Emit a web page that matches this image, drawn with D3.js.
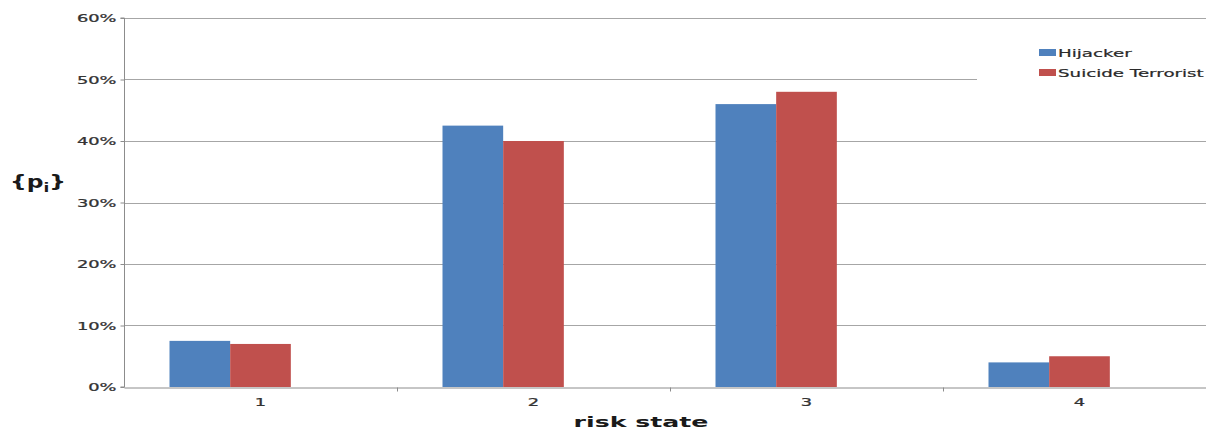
<!DOCTYPE html>
<html>
<head>
<meta charset="utf-8">
<script src="https://cdn.jsdelivr.net/npm/d3@7"></script>
<style>
  html, body { margin: 0; padding: 0; background: #fff; }
  svg { display: block; }
</style>
</head>
<body>
<svg id="chart" width="1206" height="430"></svg>
<script>
// Risk-state probability distribution for two threat profiles
const categories = ["1", "2", "3", "4"];
const seriesNames = ["Hijacker", "Suicide Terrorist"];
const hijacker = [0.075, 0.425, 0.46, 0.04];
const suicideTerrorist = [0.07, 0.40, 0.48, 0.05];
const yTicks = [0, 0.1, 0.2, 0.3, 0.4, 0.5, 0.6];
const colors = ["#4F81BD", "#C0504D"];

const seriesValues = [hijacker, suicideTerrorist];

const svg = d3.select("#chart");
const W = 1206, H = 430;
const margin = { left: 124, top: 18, bottom: 43 };
const plotRight = 1216; // plot area runs slightly past the canvas edge

const x0 = d3.scaleBand().domain(categories).range([margin.left, plotRight]).paddingInner(0).paddingOuter(0);
// three bar slots per category with 150% gap; the first two slots hold the series
const x1 = d3.scaleBand().domain([0, 1, 2]).range([0, x0.bandwidth()]).paddingInner(0).paddingOuter(0.75);
const y = d3.scaleLinear().domain([0, 0.6]).range([H - margin.bottom, margin.top]);

// wide-text helper: stretch glyphs horizontally around the anchor
function stretched(sel, sx) {
  sel.each(function () {
    const t = d3.select(this);
    const tx = +t.attr("x") || 0, ty = +t.attr("y") || 0;
    t.attr("x", null).attr("y", null)
     .attr("transform", `translate(${tx},${ty}) scale(${sx},1)`);
  });
  return sel;
}

// horizontal gridlines
svg.append("g")
  .selectAll("line")
  .data(yTicks.slice(1))
  .join("line")
  .attr("x1", margin.left).attr("x2", plotRight)
  .attr("y1", d => Math.round(y(d)) + 0.5).attr("y2", d => Math.round(y(d)) + 0.5)
  .attr("stroke", "#a6a6a6").attr("stroke-width", 1);

// bars
seriesValues.forEach((vals, s) => {
  svg.append("g")
    .selectAll("rect")
    .data(vals)
    .join("rect")
    .attr("x", (d, i) => x0(categories[i]) + x1(s))
    .attr("width", x1.bandwidth())
    .attr("y", d => y(d))
    .attr("height", d => y(0) - y(d))
    .attr("fill", colors[s]);
});

// y axis
const yAxis = svg.append("g")
  .attr("transform", `translate(${margin.left + 0.5},0)`)
  .call(d3.axisLeft(y).tickValues(yTicks).tickFormat(d3.format(".0%")).tickSize(4).tickPadding(4));
yAxis.select(".domain").attr("stroke", "#8c8c8c").attr("d", `M-4,${y(0.6)}H0V${y(0)}H-4`);
yAxis.selectAll(".tick line").attr("stroke", "#8c8c8c");
yAxis.selectAll(".tick text")
  .attr("font-family", "DejaVu Sans").attr("font-size", 9.8).attr("fill", "#333")
  .attr("stroke", "#333").attr("stroke-width", 0.25)
  .attr("dy", "0.36em")
  .each(function () {
    const t = d3.select(this);
    const tx = +t.attr("x");
    t.attr("x", null).attr("transform", `translate(${tx},0) scale(1.82,1)`);
  });

// x axis
const xAxis = svg.append("g")
  .attr("transform", `translate(0,${y(0) + 0.5})`)
  .call(d3.axisBottom(x0).tickSize(0).tickPadding(12));
xAxis.select(".domain").attr("stroke", "#8c8c8c");
xAxis.selectAll(".tick text")
  .attr("font-family", "DejaVu Sans").attr("font-size", 9.8).attr("fill", "#333")
  .attr("stroke", "#333").attr("stroke-width", 0.25)
  .each(function () {
    const t = d3.select(this);
    const ty = +t.attr("y");
    t.attr("y", null).attr("transform", `translate(0,${ty}) scale(1.82,1)`);
  });
// category separators below the axis
xAxis.append("g")
  .selectAll("line")
  .data(categories.slice(1))
  .join("line")
  .attr("x1", d => Math.round(x0(d)) + 0.5).attr("x2", d => Math.round(x0(d)) + 0.5)
  .attr("y1", 0).attr("y2", 4)
  .attr("stroke", "#8c8c8c");

// legend (white panel over the gridlines)
const legend = svg.append("g");
legend.append("rect")
  .attr("x", 977).attr("y", 32).attr("width", 240).attr("height", 72)
  .attr("fill", "#fff");
seriesNames.forEach((name, i) => {
  const ly = 49 + i * 20;
  legend.append("rect")
    .attr("x", 1039).attr("y", ly).attr("width", 17).attr("height", 7)
    .attr("fill", colors[i]);
  legend.append("text")
    .attr("x", 1058).attr("y", ly + 8)
    .attr("font-family", "DejaVu Sans").attr("font-size", 11.2).attr("fill", "#2a2a2a")
    .attr("stroke", "#2a2a2a").attr("stroke-width", 0.2)
    .text(name)
    .call(stretched, 1.63);
});

// axis titles
svg.append("text")
  .attr("x", 641).attr("y", 427)
  .attr("text-anchor", "middle")
  .attr("font-family", "DejaVu Sans").attr("font-weight", "bold").attr("font-size", 14.5)
  .attr("fill", "#1a1a1a")
  .text("risk state")
  .call(stretched, 1.74);

const yTitle = svg.append("text")
  .attr("x", 10).attr("y", 188)
  .attr("font-family", "DejaVu Sans").attr("font-weight", "bold").attr("font-size", 18)
  .attr("fill", "#1a1a1a");
yTitle.append("tspan").text("{p");
yTitle.append("tspan").attr("font-size", 13).attr("dy", 4).text("i");
yTitle.append("tspan").attr("dy", -4).text("}");
yTitle.call(stretched, 1.3);
</script>
</body>
</html>
